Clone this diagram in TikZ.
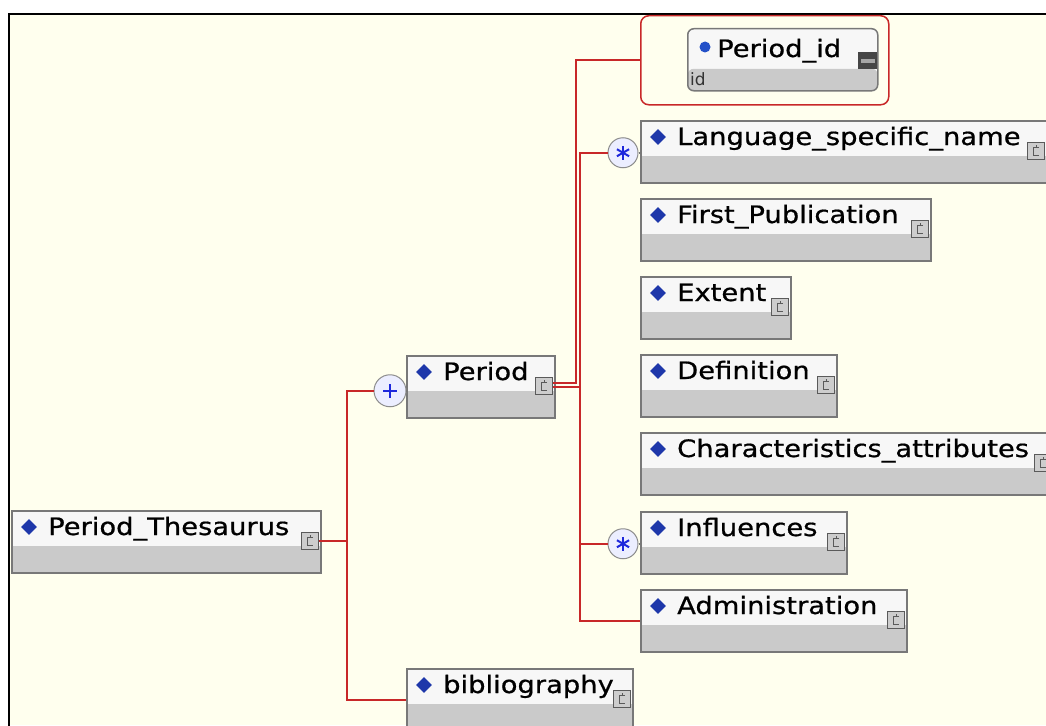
\documentclass[tikz,border=0pt]{standalone}
\usepackage{fontspec}
\setmainfont{DejaVu Sans}
\newfontfamily\lblfont[FakeStretch=1.14,FakeBold=0.7]{DejaVu Sans}
\usetikzlibrary{calc,shapes.geometric}
\definecolor{bgyellow}{RGB}{255,255,238}
\definecolor{redline}{RGB}{200,40,40}
\definecolor{boxborder}{RGB}{120,120,120}
\definecolor{boxgray}{RGB}{202,202,202}
\definecolor{boxtop}{RGB}{247,247,247}
\definecolor{diablue}{RGB}{30,55,170}
\definecolor{dotblue}{RGB}{35,80,200}
\definecolor{icongray}{RGB}{205,205,205}
\definecolor{icondark}{RGB}{90,90,90}
\definecolor{compfill}{RGB}{236,238,255}
\definecolor{compborder}{RGB}{140,140,140}
\definecolor{astblue}{RGB}{30,40,220}
\definecolor{minusdark}{RGB}{70,70,70}
\tikzset{
  elbox/.style={rectangle, draw=boxborder, line width=1.5pt, fill=boxtop, minimum height=62pt, inner sep=0pt,
    path picture={\fill[boxgray] (path picture bounding box.south west) rectangle ([yshift=27pt]path picture bounding box.south east);}},
  dia/.style={diamond, fill=diablue, minimum width=16pt, minimum height=16pt, inner sep=0pt},
  lbl/.style={font=\lblfont\fontsize{24}{28}\selectfont, inner sep=0pt, text=black},
  icon/.style={rectangle, draw=icondark, line width=1pt, fill=icongray, minimum size=17pt, inner sep=0pt,
    path picture={\draw[icondark, line width=0.9pt] ([shift={(3pt,4pt)}]path picture bounding box.center) -- ++(-6pt,0) -- ++(0,-8pt) -- ++(6pt,0);
                  \draw[icondark, line width=0.8pt] ([shift={(0pt,4pt)}]path picture bounding box.center) -- ++(0,2.5pt);}},
  comp/.style={circle, draw=compborder, line width=1pt, fill=compfill, minimum size=30pt, inner sep=0pt},
  astcomp/.style={comp, path picture={\foreach \a in {90,30,150}{\draw[astblue, line width=2pt] ([shift={(\a:7pt)}]path picture bounding box.center) -- ([shift={(\a+180:7pt)}]path picture bounding box.center);}}},
  pluscomp/.style={comp, minimum size=32pt, path picture={\draw[astblue, line width=1.6pt] ([shift={(-7pt,0)}]path picture bounding box.center) -- ++(14pt,0) ([shift={(0,-7pt)}]path picture bounding box.center) -- ++(0,14pt);}},
  conn/.style={draw=redline, line width=2pt},
  stub/.style={draw=boxborder, line width=2pt},
}
\newcommand\elem[5]{%
  \node[elbox, minimum width={#4-#2}, anchor=north west] (#1) at (#2,#3) {};
  \node[dia] (#1d) at (#2+18,#3+17) {};
  \node[lbl, anchor=base west] (#1t) at (#2+37,#3+25) {#5};
  \node[icon, anchor=north east] (#1i) at (#4-1,#3+22) {};
}
\begin{document}
\begin{tikzpicture}[x=1pt,y=-1pt]
\useasboundingbox (0,0) rectangle (1046,725);
\clip (0,0) rectangle (1046,725);
\fill[white] (0,0) rectangle (1046,725);
\fill[bgyellow] (9,14) rectangle (1046,725);
\draw[black, line width=2.5pt] (9,730) -- (9,14) -- (1050,14);

% elements
\elem{pt}{11}{510}{320}{Period\_Thesaurus}
\elem{per}{406}{355}{554}{Period}
\elem{bib}{406}{668}{632}{bibliography}
\elem{lang}{640}{120}{1046}{Language\_specific\_name}
\elem{fp}{640}{198}{930}{First\_Publication}
\elem{ext}{640}{276}{790}{Extent}
\elem{def}{640}{354}{836}{Definition}
\elem{ch}{640}{432}{1053}{Characteristics\_attributes}
\elem{inf}{640}{511}{846}{Influences}
\elem{adm}{640}{589}{906}{Administration}

% attribute box
\node[rectangle, rounded corners=8pt, draw=redline, line width=1.5pt, fill=bgyellow, minimum width=248pt, minimum height=89pt, anchor=north west] (idbox) at (640,15) {};
\node[rectangle, rounded corners=6pt, draw=boxborder, line width=1.5pt, fill=boxtop, minimum width=190pt, minimum height=62pt, inner sep=0pt, anchor=north west,
  path picture={\fill[boxgray] (path picture bounding box.south west) rectangle ([yshift=22pt]path picture bounding box.south east);}] (idin) at (687,28) {};
\node[circle, fill=dotblue, minimum size=11pt, inner sep=0pt] (iddot) at (705,47) {};
\node[lbl, anchor=base west] (idt) at (717,57) {Period\_id};
\node[rectangle, fill=minusdark, minimum width=19pt, minimum height=17pt, inner sep=0pt, anchor=north west,
  path picture={\fill[gray!70] ([shift={(-7pt,-2pt)}]path picture bounding box.center) rectangle ([shift={(7pt,2pt)}]path picture bounding box.center);}] (idmin) at (858,52) {};
\node[font=\fontsize{17}{19}\selectfont, text=black!80, inner sep=0pt, anchor=base west] (idsub) at (690,85) {id};

% compositors
\node[pluscomp] (cplus) at ($(per.west)+(-16,4)$) {};
\node[astcomp] (clang) at ($(lang.west)+(-17,1)$) {};
\node[astcomp] (cinf) at ($(inf.west)+(-17,1)$) {};
\draw[stub] (cplus.east) -- (cplus.east -| per.west);
\draw[stub] (clang.east) -- (clang.east -| lang.west);
\draw[stub] (cinf.east) -- (cinf.east -| inf.west);

% connectors
\coordinate (j) at (347,0);
\draw[conn] (pti.east) -- (pti.east -| j);
\draw[conn] (cplus.west) -| (j |- bib.west) -- (bib.west);
\coordinate (a1) at (576,0);
\coordinate (b1) at (580,0);
\coordinate (pA) at ($(peri.east)+(0,-3)$);
\coordinate (pB) at ($(peri.east)+(0,1)$);
\draw[conn] (pA) -| (a1 |- idbox.west) -- (idbox.west);
\draw[conn] (pB) -- (pB -| b1);
\draw[conn] (clang.west) -| (b1 |- adm.west) -- (adm.west);
\draw[conn] (cinf.west) -- (cinf.west -| b1);
\end{tikzpicture}
\end{document}
